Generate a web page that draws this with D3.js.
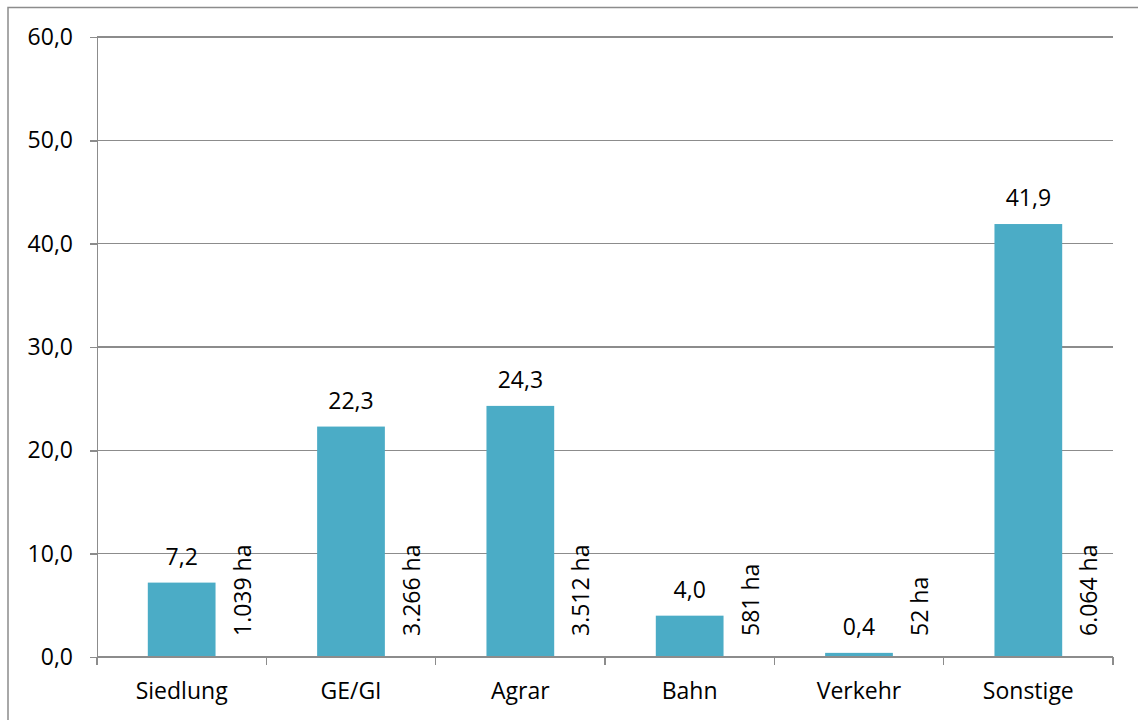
<!DOCTYPE html>
<meta charset="utf-8">
<style>
body { margin: 0; background: #fff; }
svg text { font-family: "Open Sans", sans-serif; fill: #000; }
.grid line { stroke: #8c8c8c; stroke-width: 1.5px; shape-rendering: crispEdges; }
.axis path, .axis line { stroke: #8c8c8c; stroke-width: 1.5px; fill: none; shape-rendering: crispEdges; }
</style>
<body>
<script src="https://cdn.jsdelivr.net/npm/d3@7"></script>
<script>

// data
var categories = ["Siedlung", "GE/GI", "Agrar", "Bahn", "Verkehr", "Sonstige"];
var percents = [7.2, 22.3, 24.3, 4.0, 0.4, 41.9];
var areas = ["1.039 ha", "3.266 ha", "3.512 ha", "581 ha", "52 ha", "6.064 ha"];
var yTicks = [0, 10, 20, 30, 40, 50, 60];

var data = categories.map(function(c, i) {
  return {cat: c, pct: percents[i], area: areas[i]};
});

var W = 1138, H = 720;
var plotLeft = 97, plotRight = 1113, plotTop = 37, plotBottom = 657;

var fmt = function(v) { return d3.format(".1f")(v).replace(".", ","); };

var svg = d3.select("body").append("svg")
    .attr("width", W)
    .attr("height", H);

// chart frame (runs off the bottom/right like the reference)
svg.append("rect")
    .attr("x", 8).attr("y", 7.5)
    .attr("width", W).attr("height", H)
    .attr("fill", "none")
    .attr("stroke", "#8c8c8c")
    .attr("stroke-width", 1.5);

var x = d3.scaleBand()
    .domain(categories)
    .range([plotLeft, plotRight])
    .paddingInner(0.6)
    .paddingOuter(0.3);

var xb = d3.scaleBand().domain(categories).range([plotLeft, plotRight]);

var y = d3.scaleLinear()
    .domain([0, 60])
    .range([plotBottom, plotTop]);

// gridlines
svg.append("g")
    .attr("class", "grid")
    .selectAll("line")
    .data(yTicks.slice(1))
  .enter().append("line")
    .attr("x1", plotLeft).attr("x2", plotRight)
    .attr("y1", function(d) { return y(d); })
    .attr("y2", function(d) { return y(d); });

// y axis
var yAxis = svg.append("g")
    .attr("class", "axis")
    .attr("transform", "translate(" + plotLeft + ",0)")
    .call(d3.axisLeft(y).tickValues(yTicks).tickFormat(fmt).tickSizeInner(7).tickSizeOuter(0).tickPadding(17));
yAxis.selectAll("text").style("font-size", "23px").attr("font-family", null);

// bars
svg.selectAll(".bar")
    .data(data)
  .enter().append("rect")
    .attr("class", "bar")
    .attr("x", function(d) { return x(d.cat); })
    .attr("width", x.bandwidth())
    .attr("y", function(d) { return y(d.pct); })
    .attr("height", function(d) { return y(0) - y(d.pct); })
    .attr("fill", "#4bacc6");

// x axis: ticks on band boundaries
var xAxis = svg.append("g")
    .attr("class", "axis")
    .attr("transform", "translate(0," + plotBottom + ")");
xAxis.append("line")
    .attr("x1", plotLeft).attr("x2", plotRight);
xAxis.selectAll(".tk")
    .data(categories.concat([null]))
  .enter().append("line")
    .attr("class", "tk")
    .attr("x1", function(d) { return d ? xb(d) : plotRight; })
    .attr("x2", function(d) { return d ? xb(d) : plotRight; })
    .attr("y1", 0).attr("y2", 8);
xAxis.selectAll(".lbl")
    .data(categories)
  .enter().append("text")
    .attr("class", "lbl")
    .attr("x", function(d) { return xb(d) + xb.bandwidth() / 2; })
    .attr("y", 42)
    .attr("text-anchor", "middle")
    .style("font-size", "23px")
    .text(function(d) { return d; });

// value labels above bars
svg.selectAll(".val")
    .data(data)
  .enter().append("text")
    .attr("class", "val")
    .attr("x", function(d) { return x(d.cat) + x.bandwidth() / 2; })
    .attr("y", function(d) { return y(d.pct) - 18; })
    .attr("text-anchor", "middle")
    .style("font-size", "23px")
    .text(function(d) { return fmt(d.pct); });

// rotated area labels to the right of bars
svg.selectAll(".area")
    .data(data)
  .enter().append("text")
    .attr("class", "area")
    .attr("transform", function(d) {
      var cx = x(d.cat) + x.bandwidth() / 2 + 61;
      return "translate(" + (cx + 8) + "," + (plotBottom - 21) + ") rotate(-90)";
    })
    .attr("text-anchor", "start")
    .style("font-size", "23px")
    .text(function(d) { return d.area; });

</script>
